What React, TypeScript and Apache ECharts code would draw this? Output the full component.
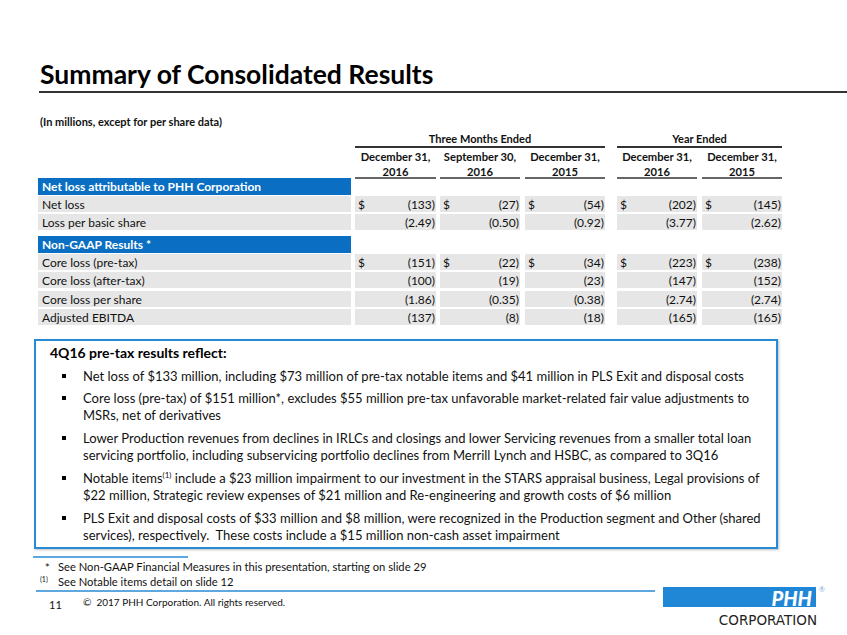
import React, { useEffect, useRef } from "react";
import * as echarts from "echarts";

// ---------- Data ----------
const title = "Summary of Consolidated Results";
const unitNote = "(In millions, except for per share data)";
const groupHeaders = ["Three Months Ended", "Year Ended"];
const colHeaderTop = ["December 31,", "September 30,", "December 31,", "December 31,", "December 31,"];
const colHeaderYear = ["2016", "2016", "2015", "2016", "2015"];

const section1 = "Net loss attributable to PHH Corporation";
const section1Rows = ["Net loss", "Loss per basic share"];
const netLoss = [-133, -27, -54, -202, -145];
const lossPerBasicShare = [-2.49, -0.5, -0.92, -3.77, -2.62];

const section2 = "Non-GAAP Results *";
const section2Rows = ["Core loss (pre-tax)", "Core loss (after-tax)", "Core loss per share", "Adjusted EBITDA"];
const coreLossPreTax = [-151, -22, -34, -223, -238];
const coreLossAfterTax = [-100, -19, -23, -147, -152];
const coreLossPerShare = [-1.86, -0.35, -0.38, -2.74, -2.74];
const adjustedEbitda = [-137, -8, -18, -165, -165];

const boxTitle = "4Q16 pre-tax results reflect:";
const bulletLines: string[][] = [
  ["Net loss of $133 million, including $73 million of pre-tax notable items and $41 million in PLS Exit and disposal costs"],
  [
    "Core loss (pre-tax) of $151 million*, excludes $55 million pre-tax unfavorable market-related fair value adjustments to",
    "MSRs, net of derivatives",
  ],
  [
    "Lower Production revenues from declines in IRLCs and closings and lower Servicing revenues from a smaller total loan",
    "servicing portfolio, including subservicing portfolio declines from Merrill Lynch and HSBC, as compared to 3Q16",
  ],
  [
    "Notable items{sup|(1)} include a $23 million impairment to our investment in the STARS appraisal business, Legal provisions of",
    "$22 million, Strategic review expenses of $21 million and Re-engineering and growth costs of $6 million",
  ],
  [
    "PLS Exit and disposal costs of $33 million and $8 million, were recognized in the Production segment and Other (shared",
    "services), respectively.  These costs include a $15 million non-cash asset impairment",
  ],
];
const footnote1 = "See Non-GAAP Financial Measures in this presentation, starting on slide 29";
const footnote2 = "See Notable items detail on slide 12";
const pageNumber = "11";
const copyright = "\u00A9  2017 PHH Corporation. All rights reserved.";

// ---------- Helpers ----------
const FONT = "Lato, 'Open Sans', sans-serif";
const BLUE = "#0A6FC2";
const GRAY = "#E6E6E6";
const TXT = "#111111";

function fmt(v: number, decimals: number): string {
  const s = Math.abs(v).toFixed(decimals);
  return v < 0 ? `(${s})` : s;
}

function txt(x: number, y: number, text: string, opts: any = {}) {
  const { align = "left", size = 11, weight = "normal", fill = TXT, family = FONT, rich, style = {} } = opts;
  return {
    type: "text",
    x,
    y,
    silent: true,
    style: {
      text,
      fill,
      fontSize: size,
      fontWeight: weight,
      fontFamily: family,
      align,
      textAlign: align,
      verticalAlign: "middle",
      textVerticalAlign: "middle",
      rich,
      ...style,
    },
  };
}

function rect(x: number, y: number, w: number, h: number, fill: string, extra: any = {}) {
  return { type: "rect", silent: true, shape: { x, y, width: w, height: h }, style: { fill, ...extra } };
}

function line(x1: number, y1: number, x2: number, y2: number, stroke: string, lineWidth: number) {
  return { type: "line", silent: true, shape: { x1, y1, x2, y2 }, style: { stroke, lineWidth } };
}

export default function App() {
  const ref = useRef<HTMLDivElement>(null);

  useEffect(() => {
    if (!ref.current) return;
    const chart = echarts.init(ref.current, undefined, { renderer: "svg" });
    const els: any[] = [];

    // Title
    els.push(txt(40, 74, title, { size: 26.5, weight: "bold", fill: "#000" }));
    els.push(line(39, 92, 847, 92, "#333", 2));
    els.push(txt(40, 121, unitNote, { size: 11, weight: "bold" }));

    // Columns
    const cols = [
      [355, 436],
      [440, 520],
      [525, 605],
      [617, 697],
      [702, 782],
    ];
    // group headers
    els.push(txt((355 + 605) / 2, 138, groupHeaders[0], { size: 11, weight: "bold", align: "center" }));
    els.push(line(355, 147, 605, 147, "#333", 2));
    els.push(txt((617 + 782) / 2, 138, groupHeaders[1], { size: 11, weight: "bold", align: "center" }));
    els.push(line(617, 147, 782, 147, "#333", 2));
    cols.forEach(([a, b], i) => {
      const c = (a + b) / 2;
      els.push(txt(c, 156, colHeaderTop[i], { size: 11.2, weight: "bold", align: "center" }));
      els.push(txt(c, 171, colHeaderYear[i], { size: 11.2, weight: "bold", align: "center" }));
      els.push(line(a, 178, b, 178, "#333", 1.5));
    });

    const labelX0 = 38;
    const labelX1 = 351;

    const drawSection = (
      bandY: number,
      header: string,
      labels: string[],
      data: number[][],
      decimals: number[],
      dollar: boolean[],
      rowYs: number[]
    ) => {
      els.push(rect(labelX0, bandY, labelX1 - labelX0, 17, BLUE));
      els.push(txt(42, bandY + 8.5, header, { size: 12, weight: "bold", fill: "#fff" }));
      labels.forEach((lab, r) => {
        const y = rowYs[r];
        els.push(rect(labelX0, y, labelX1 - labelX0, 16, GRAY));
        els.push(txt(42, y + 8, lab, { size: 12 }));
        cols.forEach(([a, b], i) => {
          els.push(rect(a, y, b - a, 16, GRAY));
          if (dollar[r]) els.push(txt(a + 3, y + 8, "$", { size: 12 }));
          els.push(txt(b - 1, y + 8, fmt(data[r][i], decimals[r]), { size: 12, align: "right" }));
        });
      });
    };

    drawSection(178, section1, section1Rows, [netLoss, lossPerBasicShare], [0, 2], [true, false], [196, 214]);
    drawSection(
      236,
      section2,
      section2Rows,
      [coreLossPreTax, coreLossAfterTax, coreLossPerShare, adjustedEbitda],
      [0, 0, 2, 0],
      [true, false, false, false],
      [254, 272, 291, 309]
    );

    // Box
    els.push({
      type: "rect",
      silent: true,
      shape: { x: 35, y: 340, width: 742, height: 208 },
      style: { fill: "#fff", stroke: "#2A8AD4", lineWidth: 2, shadowBlur: 2, shadowColor: "rgba(0,0,0,0.25)", shadowOffsetX: 1, shadowOffsetY: 1 },
    });
    els.push(txt(50, 352, boxTitle, { size: 14, weight: "bold", fill: "#000" }));
    const bulletY = [376, 398, 438, 478, 518];
    const lineGap = 17;
    const rich = {
      sup: { fontSize: 8, fontFamily: FONT, fill: TXT, verticalAlign: "top", padding: [0, 0, 6, 0] },
    };
    bulletLines.forEach((lines, i) => {
      const y0 = bulletY[i];
      els.push(rect(62, y0 - 2, 4, 4, "#000"));
      lines.forEach((l, j) => {
        els.push(txt(83, y0 + j * lineGap, l, { size: 13, rich }));
      });
    });

    // Footnotes
    els.push(line(33, 557, 188, 557, "#2A8AD4", 1.5));
    els.push(txt(45, 567, "*", { size: 11 }));
    els.push(txt(58, 566, footnote1, { size: 11.2 }));
    els.push(txt(40, 579, "(1)", { size: 7 }));
    els.push(txt(58, 581, footnote2, { size: 11.2 }));
    els.push(line(36, 591, 655, 591, "#2A8AD4", 1.5));
    els.push(txt(49, 604, pageNumber, { size: 11 }));
    els.push(txt(83, 602, copyright, { size: 10 }));

    // Logo
    els.push(rect(663, 587, 153, 20, "#1F87D6"));
    els.push(
      txt(812, 597.5, "PHH", {
        size: 20,
        weight: "900",
        fill: "#fff",
        align: "right",
        style: { fontStyle: "italic" },
      })
    );
    els.push(txt(822, 589, "\u00AE", { size: 7, fill: "#7aa9d8", align: "center" }));
    els.push(txt(817, 620, "CORPORATION", { size: 13.5, fill: "#222", align: "right", family: "'DejaVu Sans', Lato, sans-serif" }));

    chart.setOption({
      animation: false,
      backgroundColor: "#fff",
      graphic: { elements: els },
    });

    return () => chart.dispose();
  }, []);

  return (
    <div
      ref={ref}
      style={{ position: "fixed", left: 0, top: 0, width: 847, height: 635, background: "#fff" }}
    />
  );
}
